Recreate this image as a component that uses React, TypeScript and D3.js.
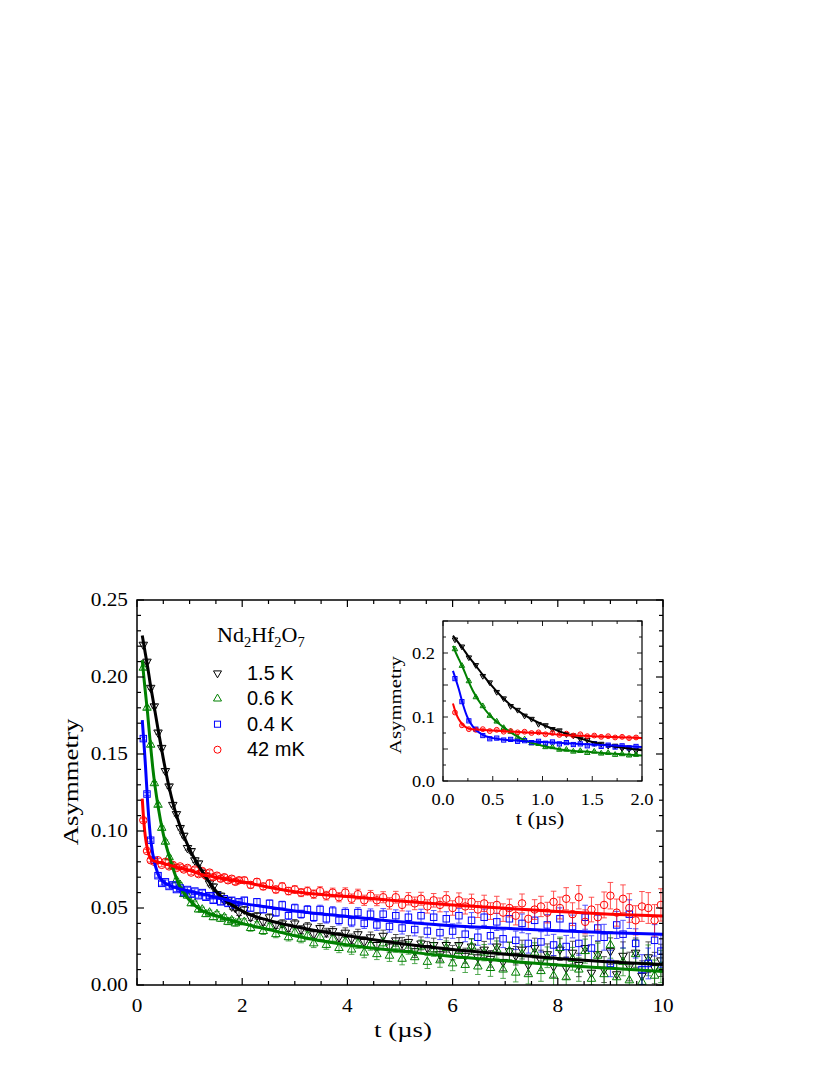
import React from "react";
import * as d3 from "d3";

// ---------- data ----------
const times = [
  0.12, 0.19, 0.26, 0.33, 0.40, 0.47, 0.54, 0.61, 0.68, 0.75, 0.82, 0.89, 0.96, 1.03,
  1.10, 1.17, 1.24, 1.31, 1.38, 1.45, 1.52, 1.59, 1.66, 1.73, 1.80, 1.87, 1.94,
  2.04, 2.16, 2.28, 2.40, 2.52, 2.64, 2.76, 2.88, 3.00, 3.12, 3.24, 3.36, 3.48, 3.60, 3.72, 3.84, 3.96,
  4.08, 4.20, 4.32, 4.44, 4.56, 4.68, 4.80, 4.92, 5.04, 5.16, 5.28, 5.40, 5.52, 5.64, 5.76, 5.88, 6.00,
  6.12, 6.24, 6.36, 6.48, 6.60, 6.72, 6.84, 6.96, 7.08, 7.20, 7.32, 7.44, 7.56, 7.68, 7.80, 7.92,
  8.04, 8.16, 8.28, 8.40, 8.52, 8.64, 8.76, 8.88, 9.00, 9.12, 9.24, 9.36, 9.48, 9.60, 9.72, 9.84, 9.96,
];

const errors = [
  0.0010, 0.0010, 0.0011, 0.0011, 0.0011, 0.0012, 0.0012, 0.0012, 0.0013, 0.0013, 0.0013, 0.0014, 0.0014, 0.0014,
  0.0015, 0.0015, 0.0015, 0.0016, 0.0016, 0.0016, 0.0017, 0.0017, 0.0017, 0.0018, 0.0018, 0.0018, 0.0019,
  0.0020, 0.0021, 0.0021, 0.0022, 0.0022, 0.0023, 0.0024, 0.0024, 0.0025, 0.0026, 0.0026, 0.0027, 0.0028, 0.0028, 0.0029, 0.0030, 0.0031,
  0.0031, 0.0032, 0.0033, 0.0034, 0.0035, 0.0036, 0.0037, 0.0038, 0.0039, 0.0040, 0.0041, 0.0042, 0.0043, 0.0044, 0.0045, 0.0046, 0.0047,
  0.0048, 0.0049, 0.0050, 0.0052, 0.0053, 0.0054, 0.0056, 0.0057, 0.0058, 0.0060, 0.0061, 0.0063, 0.0064, 0.0066, 0.0067, 0.0069,
  0.0071, 0.0072, 0.0074, 0.0076, 0.0078, 0.0080, 0.0082, 0.0084, 0.0086, 0.0088, 0.0090, 0.0093, 0.0095, 0.0097, 0.0100, 0.0102, 0.0105,
];

const data15K = [
  0.221, 0.210, 0.193, 0.181, 0.164, 0.154, 0.139, 0.129, 0.117, 0.111, 0.102, 0.097, 0.089, 0.087,
  0.081, 0.079, 0.073, 0.071, 0.066, 0.064, 0.059, 0.058, 0.055, 0.055, 0.051, 0.050, 0.047,
  0.049, 0.044, 0.045, 0.041, 0.044, 0.039, 0.040, 0.037, 0.040, 0.036, 0.038, 0.033, 0.037, 0.034, 0.035, 0.031, 0.034,
  0.030, 0.033, 0.028, 0.031, 0.026, 0.032, 0.025, 0.029, 0.027, 0.028, 0.022, 0.027, 0.024, 0.026, 0.020, 0.026, 0.021,
  0.026, 0.019, 0.025, 0.018, 0.023, 0.017, 0.025, 0.015, 0.022, 0.019, 0.023, 0.013, 0.024, 0.016, 0.020, 0.012,
  0.023, 0.011, 0.021, 0.013, 0.024, 0.008, 0.020, 0.010, 0.022, 0.007, 0.019, 0.012, 0.021, 0.006, 0.018, 0.011, 0.016,
];

const data06K = [
  0.206, 0.180, 0.156, 0.131, 0.117, 0.102, 0.093, 0.083, 0.077, 0.068, 0.065, 0.059, 0.058, 0.053,
  0.053, 0.049, 0.049, 0.046, 0.047, 0.044, 0.046, 0.043, 0.044, 0.041, 0.042, 0.040, 0.041,
  0.041, 0.037, 0.039, 0.035, 0.038, 0.033, 0.036, 0.031, 0.034, 0.030, 0.032, 0.027, 0.031, 0.026, 0.030, 0.024, 0.028,
  0.023, 0.027, 0.021, 0.026, 0.020, 0.027, 0.019, 0.025, 0.017, 0.024, 0.018, 0.025, 0.015, 0.023, 0.016, 0.024, 0.014,
  0.022, 0.013, 0.025, 0.012, 0.021, 0.011, 0.023, 0.010, 0.022, 0.008, 0.020, 0.007, 0.021, 0.009, 0.018, 0.006,
  0.024, 0.005, 0.017, 0.010, 0.022, 0.004, 0.019, 0.007, 0.026, 0.005, 0.015, 0.003, 0.020, 0.002, 0.016, 0.006, 0.012,
];

const data04K = [
  0.160, 0.124, 0.094, 0.081, 0.071, 0.066, 0.067, 0.064, 0.065, 0.062, 0.063, 0.060, 0.062, 0.059,
  0.061, 0.058, 0.060, 0.057, 0.058, 0.055, 0.058, 0.054, 0.056, 0.053, 0.055, 0.052, 0.054,
  0.055, 0.050, 0.054, 0.049, 0.053, 0.047, 0.052, 0.045, 0.050, 0.046, 0.049, 0.044, 0.049, 0.043, 0.048, 0.042, 0.047,
  0.041, 0.047, 0.040, 0.046, 0.039, 0.046, 0.038, 0.045, 0.037, 0.044, 0.036, 0.045, 0.035, 0.044, 0.034, 0.043, 0.035,
  0.045, 0.033, 0.042, 0.031, 0.044, 0.032, 0.041, 0.030, 0.043, 0.029, 0.040, 0.027, 0.042, 0.028, 0.039, 0.026,
  0.043, 0.025, 0.038, 0.027, 0.044, 0.024, 0.037, 0.031, 0.014, 0.039, 0.033, 0.046, 0.027, 0.010, 0.014, 0.029, 0.022,
];

const data42mK = [
  0.107, 0.087, 0.081, 0.080, 0.081, 0.078, 0.080, 0.077, 0.078, 0.076, 0.077, 0.075, 0.076, 0.073,
  0.075, 0.072, 0.074, 0.071, 0.073, 0.070, 0.071, 0.069, 0.070, 0.068, 0.069, 0.067, 0.068,
  0.068, 0.065, 0.067, 0.064, 0.066, 0.062, 0.064, 0.061, 0.062, 0.060, 0.061, 0.059, 0.061, 0.058, 0.060, 0.057, 0.060,
  0.056, 0.059, 0.055, 0.058, 0.055, 0.057, 0.053, 0.057, 0.052, 0.056, 0.053, 0.056, 0.051, 0.055, 0.052, 0.056, 0.050,
  0.055, 0.051, 0.054, 0.049, 0.053, 0.048, 0.052, 0.047, 0.050, 0.045, 0.053, 0.043, 0.049, 0.051, 0.047, 0.054,
  0.050, 0.056, 0.046, 0.057, 0.041, 0.049, 0.044, 0.052, 0.058, 0.047, 0.056, 0.050, 0.042, 0.051, 0.050, 0.042, 0.052,
];

// fit curves (knots)
const fitTimes = [0.1, 0.13, 0.16, 0.2, 0.25, 0.3, 0.4, 0.5, 0.6, 0.7, 0.8, 1.0, 1.2, 1.5, 2, 2.5, 3, 4, 5, 6, 7, 8, 9, 10];
const fit15K = [0.227, 0.221, 0.215, 0.207, 0.196, 0.186, 0.166, 0.147, 0.130, 0.116, 0.105, 0.088, 0.076, 0.061, 0.048, 0.042, 0.038, 0.032, 0.027, 0.023, 0.020, 0.0172, 0.015, 0.0133];
const fit06K = [0.211, 0.200, 0.190, 0.177, 0.158, 0.141, 0.116, 0.098, 0.085, 0.074, 0.065, 0.055, 0.049, 0.045, 0.040, 0.036, 0.032, 0.026, 0.022, 0.0185, 0.0157, 0.013, 0.0108, 0.0088];
const fit04K = [0.172, 0.158, 0.143, 0.120, 0.098, 0.085, 0.072, 0.067, 0.065, 0.0635, 0.0625, 0.061, 0.0595, 0.057, 0.053, 0.0505, 0.048, 0.0445, 0.041, 0.0385, 0.0368, 0.0353, 0.034, 0.0329];
const fit42mK = [0.121, 0.106, 0.096, 0.088, 0.0825, 0.0808, 0.0798, 0.079, 0.078, 0.077, 0.076, 0.0745, 0.072, 0.070, 0.067, 0.0635, 0.0605, 0.0575, 0.0545, 0.052, 0.0498, 0.0478, 0.046, 0.0448];

const seriesLabels = ["1.5 K", "0.6 K", "0.4 K", "42 mK"];
const seriesColors = ["#000000", "#008000", "#0000ff", "#ff0000"];
const seriesSymbols = ["triDown", "triUp", "square", "circle"];
const seriesData = [data15K, data06K, data04K, data42mK];
const seriesFits = [fit15K, fit06K, fit04K, fit42mK];

const mainXTicks = [0, 2, 4, 6, 8, 10];
const mainYTicks = [0, 0.05, 0.1, 0.15, 0.2, 0.25];
const insetXTicks = [0, 0.5, 1.0, 1.5, 2.0];
const insetYTicks = [0, 0.1, 0.2];

// ---------- helpers ----------
const SERIF = "'Liberation Serif', 'Times New Roman', serif";
const SANS = "'Liberation Sans', Arial, sans-serif";

function Marker({ kind, x, y, s, color, sw }: any) {
  if (kind === "circle") {
    return <circle cx={x} cy={y} r={s * 0.44} fill="none" stroke={color} strokeWidth={sw} />;
  }
  if (kind === "square") {
    const a = s * 0.38;
    return <rect x={x - a} y={y - a} width={2 * a} height={2 * a} fill="none" stroke={color} strokeWidth={sw} />;
  }
  const h = s * 0.866;
  const dir = kind === "triDown" ? 1 : -1;
  const pts = [
    [x - s / 2, y - (dir * h) / 3],
    [x + s / 2, y - (dir * h) / 3],
    [x, y + (dir * 2 * h) / 3],
  ];
  return <polygon points={pts.map((p) => p.join(",")).join(" ")} fill="none" stroke={color} strokeWidth={sw} />;
}

function SText({ x, y, anchor = "middle", size, sx = 1, family = SERIF, rotate = 0, children }: any) {
  return (
    <text
      transform={`translate(${x},${y})${rotate ? ` rotate(${rotate})` : ""} scale(${sx},1)`}
      textAnchor={anchor}
      fontSize={size}
      fontFamily={family}
      fill="#000"
    >
      {children}
    </text>
  );
}

function Frame({ x, y, tickMinorX, tickMinorY, isMajorX, isMajorY, major, minor, sw }: any) {
  const [x0, x1] = x.range();
  const [y0, y1] = y.range(); // y0 bottom, y1 top
  const els: any[] = [];
  tickMinorX.forEach((v: number, i: number) => {
    const px = x(v);
    const L = isMajorX(v) ? major : minor;
    els.push(<line key={"xb" + i} x1={px} x2={px} y1={y0} y2={y0 - L} stroke="#000" strokeWidth={sw} />);
    els.push(<line key={"xt" + i} x1={px} x2={px} y1={y1} y2={y1 + L} stroke="#000" strokeWidth={sw} />);
  });
  tickMinorY.forEach((v: number, i: number) => {
    const py = y(v);
    const L = isMajorY(v) ? major : minor;
    els.push(<line key={"yl" + i} x1={x0} x2={x0 + L} y1={py} y2={py} stroke="#000" strokeWidth={sw} />);
    els.push(<line key={"yr" + i} x1={x1} x2={x1 - L} y1={py} y2={py} stroke="#000" strokeWidth={sw} />);
  });
  return (
    <g>
      {els}
      <rect x={x0} y={y1} width={x1 - x0} height={y0 - y1} fill="none" stroke="#000" strokeWidth={sw + 0.3} />
    </g>
  );
}

function Plot({ x, y, tMax, mSize, cap, lineW, clipId }: any) {
  const line = d3
    .line<number>()
    .x((_, i) => x(fitTimes[i]))
    .y((d) => y(d))
    .curve(d3.curveMonotoneX);
  const idx = times.map((t, i) => i).filter((i) => times[i] <= tMax);
  return (
    <g clipPath={`url(#${clipId})`}>
      {seriesData.map((vals, s) => (
        <g key={"d" + s}>
          {idx.map((i) => {
            const px = x(times[i]);
            const yt = y(vals[i] + errors[i]);
            const yb = y(vals[i] - errors[i]);
            return (
              <g key={i} stroke={seriesColors[s]} strokeWidth={0.9} opacity={0.75}>
                <line x1={px} x2={px} y1={yt} y2={yb} />
                <line x1={px - cap} x2={px + cap} y1={yt} y2={yt} />
                <line x1={px - cap} x2={px + cap} y1={yb} y2={yb} />
              </g>
            );
          })}
          {idx.map((i) => (
            <Marker key={"m" + i} kind={seriesSymbols[s]} x={x(times[i])} y={y(vals[i])} s={mSize} color={seriesColors[s]} sw={1} />
          ))}
        </g>
      ))}
      {seriesFits.map((f, s) => {
        const pts = f.filter((_, i) => fitTimes[i] <= tMax + 1e-9);
        return <path key={"f" + s} d={line(pts) || ""} fill="none" stroke={seriesColors[s]} strokeWidth={lineW} />;
      })}
    </g>
  );
}

export default function App() {
  const x = d3.scaleLinear().domain([0, 10]).range([137, 663]);
  const y = d3.scaleLinear().domain([0, 0.25]).range([985, 600]);
  const xi = d3.scaleLinear().domain([0, 2]).range([443, 642]);
  const yi = d3.scaleLinear().domain([0, 0.25]).range([781, 621]);

  const mainMinorX = d3.range(0, 10.001, 0.5);
  const mainMinorY = d3.range(0, 0.2501, 0.01);
  const insMinorX = d3.range(0, 2.001, 0.25);
  const insMinorY = d3.range(0, 0.2501, 0.025);

  const near = (v: number, step: number) => Math.abs(v / step - Math.round(v / step)) < 1e-6;

  return (
    <div style={{ position: "absolute", left: 0, top: 0, width: 830, height: 1075, background: "#fff" }}>
      <svg width={830} height={1075} xmlns="http://www.w3.org/2000/svg">
        <defs>
          <clipPath id="mainClip">
            <rect x={137} y={600} width={526} height={385} />
          </clipPath>
          <clipPath id="insetClip">
            <rect x={443} y={621} width={199} height={160} />
          </clipPath>
        </defs>

        {/* main plot */}
        <Plot x={x} y={y} tMax={10} mSize={8.5} cap={2.8} lineW={3} clipId="mainClip" />
        <Frame
          x={x}
          y={y}
          tickMinorX={mainMinorX}
          tickMinorY={mainMinorY}
          isMajorX={(v: number) => near(v, 2)}
          isMajorY={(v: number) => near(v, 0.05)}
          major={7}
          minor={4}
          sw={1.2}
        />
        {mainXTicks.map((v) => (
          <SText key={"mx" + v} x={x(v)} y={1012} size={18.5} sx={1.15}>
            {d3.format("d")(v)}
          </SText>
        ))}
        {mainYTicks.map((v) => (
          <SText key={"my" + v} x={128} y={y(v) + 6.3} anchor="end" size={18.5} sx={1.15}>
            {d3.format(".2f")(v)}
          </SText>
        ))}
        <SText x={403} y={1037} size={22} sx={1.22}>
          t (µs)
        </SText>
        <SText x={78} y={782} size={22} sx={1.22} rotate={-90}>
          Asymmetry
        </SText>

        {/* title and legend */}
        <text x={217} y={642} fontFamily={SERIF} fontSize={22} fill="#000">
          Nd
          <tspan fontSize={14.5} dy={5}>2</tspan>
          <tspan dy={-5}>Hf</tspan>
          <tspan fontSize={14.5} dy={5}>2</tspan>
          <tspan dy={-5}>O</tspan>
          <tspan fontSize={14.5} dy={5}>7</tspan>
        </text>
        {seriesLabels.map((lab, s) => {
          const by = 679.5 + s * 25.5;
          return (
            <g key={"lg" + s}>
              <Marker kind={seriesSymbols[s]} x={217.5} y={by - 6.3} s={8} color={seriesColors[s]} sw={1} />
              <text x={247} y={by} fontFamily={SANS} fontSize={20} fill="#000">
                {lab}
              </text>
            </g>
          );
        })}

        {/* inset */}
        <rect x={443} y={621} width={199} height={160} fill="#fff" />
        <Plot x={xi} y={yi} tMax={2} mSize={5.5} cap={1.6} lineW={2} clipId="insetClip" />
        <Frame
          x={xi}
          y={yi}
          tickMinorX={insMinorX}
          tickMinorY={insMinorY}
          isMajorX={(v: number) => near(v, 0.5)}
          isMajorY={(v: number) => near(v, 0.05)}
          major={5}
          minor={3}
          sw={0.9}
        />
        {insetXTicks.map((v) => (
          <SText key={"ix" + v} x={xi(v)} y={805} size={16} sx={1.15}>
            {d3.format(".1f")(v)}
          </SText>
        ))}
        {insetYTicks.map((v) => (
          <SText key={"iy" + v} x={435} y={yi(v) + 5.5} anchor="end" size={16} sx={1.15}>
            {d3.format(".1f")(v)}
          </SText>
        ))}
        <SText x={540} y={825} size={18} sx={1.25}>
          t (µs)
        </SText>
        <SText x={401} y={705} size={17} sx={1.22} rotate={-90}>
          Asymmetry
        </SText>
      </svg>
    </div>
  );
}
